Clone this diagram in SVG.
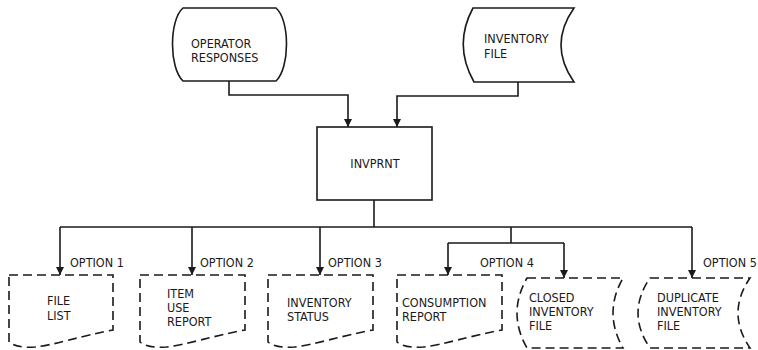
<svg xmlns="http://www.w3.org/2000/svg" width="758" height="350" viewBox="0 0 758 350">
  <defs>
    <marker id="arrow" viewBox="0 0 8 10" refX="8" refY="5" markerWidth="8" markerHeight="10" markerUnits="userSpaceOnUse" orient="auto">
      <path d="M0,1 L8,5 L0,9 Z" fill="#1a1a1a"/>
    </marker>
  </defs>
  <style>
    .shape { fill: #fff; stroke: #1a1a1a; stroke-width: 1.6; }
    .dash { fill: #fff; stroke: #1a1a1a; stroke-width: 1.6; stroke-dasharray: 9 5; }
    .wire { fill: none; stroke: #1a1a1a; stroke-width: 1.6; }
    .arr { marker-end: url(#arrow); }
    text { font-family: "DejaVu Sans Condensed", "Liberation Sans Narrow", "Liberation Sans", sans-serif; font-size: 12.5px; fill: #1a1a1a; }
    .mid { text-anchor: middle; }
  </style>
  <rect width="758" height="350" fill="#fff"/>

  <!-- inputs -->
  <g id="operator-responses">
    <path class="shape" d="M183,8 H276 C290,20 290,68 276,81 H183 C169,68 169,20 183,8 Z"/>
    <text x="191" y="48">OPERATOR</text>
    <text x="191" y="62">RESPONSES</text>
  </g>
  <g id="inventory-file">
    <path class="shape" d="M473,8 H574 Q548,45 574,82 H474 Q453,45 473,8 Z"/>
    <text x="484" y="43">INVENTORY</text>
    <text x="484" y="58">FILE</text>
  </g>

  <!-- program -->
  <g id="invprnt">
    <rect class="shape" x="317" y="127" width="115" height="73"/>
    <text class="mid" x="375" y="168">INVPRNT</text>
  </g>

  <!-- outputs -->
  <g id="file-list">
    <path class="dash" d="M9,275 H113 V330 C80,336 55,345 35,347 C22,348 14,346 9,342 Z"/>
    <text x="47" y="305">FILE</text>
    <text x="47" y="320">LIST</text>
    <text x="70" y="267">OPTION 1</text>
  </g>
  <g id="item-use-report">
    <path class="dash" d="M140,275 H245 V330 C212,336 186,345 166,347 C153,348 145,346 140,342 Z"/>
    <text x="167" y="298">ITEM</text>
    <text x="167" y="312">USE</text>
    <text x="167" y="326">REPORT</text>
    <text x="200" y="267">OPTION 2</text>
  </g>
  <g id="inventory-status">
    <path class="dash" d="M268,275 H373 V330 C340,336 314,345 294,347 C281,348 273,346 268,342 Z"/>
    <text x="287" y="307">INVENTORY</text>
    <text x="287" y="321">STATUS</text>
    <text x="328" y="267">OPTION 3</text>
  </g>
  <g id="consumption-report">
    <path class="dash" d="M397,275 H502 V330 C469,336 443,345 423,347 C410,348 402,346 397,342 Z"/>
    <text x="402" y="307">CONSUMPTION</text>
    <text x="402" y="321">REPORT</text>
    <text x="480" y="267">OPTION 4</text>
  </g>
  <g id="closed-inventory-file">
    <path class="dash" d="M527,278 H623 Q603,313 623,348 H527 Q507,313 527,278 Z"/>
    <text x="529" y="302">CLOSED</text>
    <text x="529" y="316">INVENTORY</text>
    <text x="529" y="330">FILE</text>
  </g>
  <g id="duplicate-inventory-file">
    <path class="dash" d="M650,278 H750 Q726,313 750,348 H650 Q626,313 650,278 Z"/>
    <text x="657" y="302">DUPLICATE</text>
    <text x="657" y="316">INVENTORY</text>
    <text x="657" y="330">FILE</text>
    <text x="703" y="267">OPTION 5</text>
  </g>

  <!-- connectors -->
  <g id="connectors">
    <path class="wire arr" d="M229,81 V95 H348 V127"/>
    <path class="wire arr" d="M518,82 V96 H397 V127"/>
    <path class="wire" d="M374,200 V227"/>
    <path class="wire" d="M60,227 H692"/>
    <path class="wire arr" d="M60,227 V275"/>
    <path class="wire arr" d="M192,227 V275"/>
    <path class="wire arr" d="M320,227 V275"/>
    <path class="wire" d="M511,227 V243"/>
    <path class="wire arr" d="M448,243 H564 M448,243 V275"/>
    <path class="wire arr" d="M564,243 V278"/>
    <path class="wire arr" d="M692,227 V278"/>
  </g>
</svg>
